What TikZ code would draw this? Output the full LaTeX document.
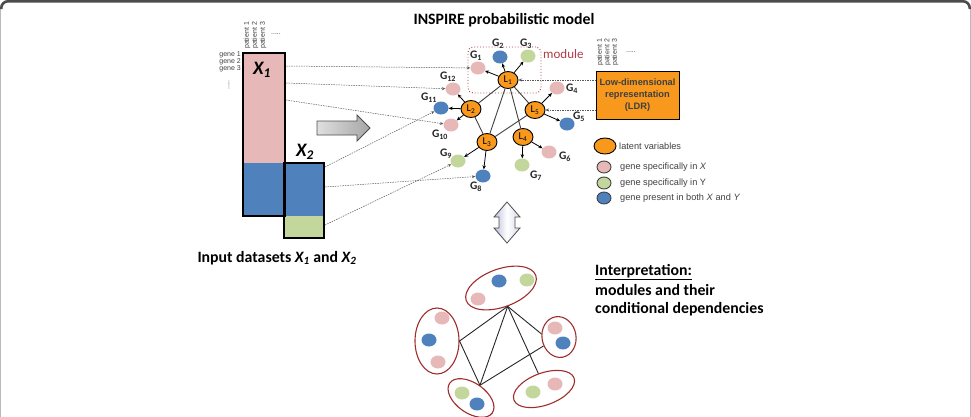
\documentclass[tikz,border=0pt]{standalone}
\usepackage{fontspec}
\setmainfont{Carlito}
\newfontfamily\arialf{Liberation Sans}
\usetikzlibrary{arrows.meta,shapes.geometric}
\definecolor{lorange}{RGB}{248,152,29}
\definecolor{gpink}{RGB}{230,185,184}
\definecolor{ggreen}{RGB}{195,214,155}
\definecolor{gblue}{RGB}{79,129,189}
\definecolor{mred}{RGB}{160,45,45}
\definecolor{modred}{RGB}{175,60,70}
\definecolor{txtgray}{RGB}{64,64,64}
\definecolor{lav}{RGB}{190,190,220}
\begin{document}
\begin{tikzpicture}[x=1pt,y=-1pt,
  latent/.style={ellipse, draw=black, line width=0.9pt, fill=lorange, minimum width=20pt, minimum height=17pt, inner sep=0pt, font=\fontsize{10.5}{10.5}\selectfont},
  gene/.style={ellipse, minimum width=15pt, minimum height=13pt, inner sep=0pt},
  gp/.style={gene, fill=gpink},
  gg/.style={gene, fill=ggreen},
  gb/.style={gene, fill=gblue},
  glab/.style={font=\bfseries\fontsize{11.5}{11.5}\selectfont, text=black!85, inner sep=0pt},
  tolat/.style={-{Stealth[length=4pt,width=3.5pt]}, line width=0.8pt, black},
  llink/.style={line width=0.9pt, black!75},
  dline/.style={-{Stealth[length=3.5pt,width=3pt]}, line width=0.5pt, black!65, dash pattern=on 1.5pt off 1pt},
  modell/.style={ellipse, draw=mred, line width=1.1pt, inner sep=0pt},
  ptext/.style={font=\arialf\fontsize{7}{7}\selectfont, text=black!75, inner sep=0pt},
  legtext/.style={font=\arialf\fontsize{9.2}{9.2}\selectfont, text=txtgray, inner sep=0pt, anchor=west},
  matbox/.style={draw=black, line width=2.5pt, inner sep=0pt},
  big/.style={font=\bfseries\fontsize{15.8}{19.5}\selectfont, inner sep=0pt, anchor=base west}
]
\useasboundingbox (0,0) rectangle (971,416);
\clip (0,0) rectangle (971,416);
% frame
\draw[gray!55, line width=0.8pt, rounded corners=7pt] (0.5,430) -- (0.5,0.5) -- (970.5,0.5) -- (970.5,430);
\draw[black!70, line width=2.5pt, rounded corners=7pt] (1.25,9) -- (1.25,1.25) -- (969.75,1.25) -- (969.75,9);

% ---------- input matrices ----------
\fill[gpink] (243,53) rectangle (285,163);
\fill[gblue] (243,163) rectangle (285,216);
\fill[gblue] (284,163) rectangle (324,216);
\fill[ggreen] (284,216) rectangle (324,238);
\node[matbox, minimum width=42pt, minimum height=163pt] (X1) at (264,134.5) {};
\node[matbox, minimum width=40pt, minimum height=75pt] (X2) at (304,200.5) {};
\node[font=\bfseries\itshape\fontsize{19}{19}\selectfont, inner sep=0pt] (X1lab) at (262,70) {X\textsubscript{1}};
\node[font=\bfseries\itshape\fontsize{19}{19}\selectfont, inner sep=0pt] (X2lab) at (305,152) {X\textsubscript{2}};
\node[ptext, rotate=90, anchor=west] (p1) at (247,49) {patient 1};
\node[ptext, rotate=90, anchor=west] (p2) at (255,49) {patient 2};
\node[ptext, rotate=90, anchor=west] (p3) at (263,49) {patient 3};
\node[ptext] (pdots) at (276,34) {.....};
\node[ptext, anchor=east] (g1) at (241,55) {gene 1};
\node[ptext, anchor=east] (g2) at (241,62) {gene 2};
\node[ptext, anchor=east] (g3) at (241,69) {gene 3};
\node[ptext, rotate=90] (gdots) at (229,85) {.....};
\node[big, anchor=base] (inlab) at (277,262) {Input datasets \textit{X\textsubscript{1}} and \textit{X\textsubscript{2}}};

% gray arrow
\shade[left color=gray!25, right color=gray!70, draw=black!70, line width=0.8pt]
  (317,121) -- (357,121) -- (357,115) -- (370,128) -- (357,141) -- (357,135) -- (317,135) -- cycle;

% ---------- model ----------
\node[big, anchor=base] (title) at (504,24) {INSPIRE probabilistic model};
\node[draw=modred, dotted, rounded corners=5pt, line width=0.9pt, minimum width=73pt, minimum height=46pt] (module) at (504.5,70) {};
\node[text=modred, font=\fontsize{13}{13}\selectfont, anchor=west, inner sep=0pt] (modlab) at (543,54) {module};

\node[gp] (G1) at (478,68) {};
\node[gb] (G2) at (500,57) {};
\node[gg] (G3) at (528,56) {};
\node[gp] (G12) at (453,89) {};
\node[gp] (G4) at (557,88) {};
\node[gb] (G11) at (441,108) {};
\node[gb] (G5) at (567,124) {};
\node[gp] (G10) at (451,125) {};
\node[gg] (G9) at (458,161) {};
\node[gb] (G8) at (483,176) {};
\node[gg] (G7) at (522,165) {};
\node[gp] (G6) at (549,152) {};

\node[glab] (lG1) at (476,56) {G\textsubscript{1}};
\node[glab] (lG2) at (498,44) {G\textsubscript{2}};
\node[glab] (lG3) at (526,44) {G\textsubscript{3}};
\node[glab] (lG12) at (448,77) {G\textsubscript{12}};
\node[glab] (lG4) at (572,89) {G\textsubscript{4}};
\node[glab] (lG11) at (429,98) {G\textsubscript{11}};
\node[glab] (lG5) at (579,117) {G\textsubscript{5}};
\node[glab] (lG10) at (440,135) {G\textsubscript{10}};
\node[glab] (lG9) at (446,154) {G\textsubscript{9}};
\node[glab] (lG8) at (476,187) {G\textsubscript{8}};
\node[glab] (lG7) at (536,176) {G\textsubscript{7}};
\node[glab] (lG6) at (565,157) {G\textsubscript{6}};

\node[latent] (L1) at (508,80) {L\textsubscript{1}};
\node[latent] (L2) at (471,109) {L\textsubscript{2}};
\node[latent] (L5) at (535,110) {L\textsubscript{5}};
\node[latent] (L3) at (487,142) {L\textsubscript{3}};
\node[latent] (L4) at (523,137) {L\textsubscript{4}};

\draw[llink] (L1) -- (L2);
\draw[llink] (L1) -- (L3);
\draw[llink] (L1) -- (L4);
\draw[llink] (L1) -- (L5);
\draw[llink] (L2) -- (L3);
\draw[llink] (L5) -- (L3);

\draw[tolat] (L1) -- (G1);
\draw[tolat] (L1) -- (G2);
\draw[tolat] (L1) -- (G3);
\draw[tolat] (L2) -- (G12);
\draw[tolat] (L2) -- (G11);
\draw[tolat] (L2) -- (G10);
\draw[tolat] (L5) -- (G4);
\draw[tolat] (L5) -- (G5);
\draw[tolat] (L3) -- (G9);
\draw[tolat] (L3) -- (G8);
\draw[tolat] (L4) -- (G7);
\draw[tolat] (L4) -- (G6);

% LDR
\node[draw=black, line width=1pt, fill=lorange, minimum width=83pt, minimum height=48pt, align=center, inner sep=0pt,
  font=\arialf\bfseries\fontsize{9.3}{11.8}\selectfont, text=txtgray] (ldr) at (637.5,95) {Low-dimensional\\representation\\(LDR)};
\node[ptext, rotate=90, anchor=west] (q1) at (600,66) {patient 1};
\node[ptext, rotate=90, anchor=west] (q2) at (607.5,66) {patient 2};
\node[ptext, rotate=90, anchor=west] (q3) at (615,66) {patient 3};
\node[ptext] (qdots) at (631,52) {.....};

% dashed connectors
\coordinate (a1) at (286,66);
\coordinate (a2) at (286,83);
\coordinate (a3) at (286,100);
\coordinate (b1) at (325,167);
\coordinate (b2) at (325,187);
\coordinate (b3) at (325,225);
\coordinate (r1) at (596,80);
\coordinate (r2) at (596,110);
\draw[dline] (a1) -- (G1);
\draw[dline] (a2) -- (G12);
\draw[dline] (a3) -- (G10);
\draw[dline] (b1) -- (G11);
\draw[dline] (b2) -- (G8);
\draw[dline] (b3) -- (G9);
\draw[dline] (r1) -- (L1);
\draw[dline] (r2) -- (L5);

% legend
\node[latent, minimum width=22pt, minimum height=16pt] (leglat) at (605,146) {};
\node[legtext] (tlat) at (619,146) {latent variables};
\node[gp, draw=txtgray, line width=0.9pt, minimum width=14pt, minimum height=12pt] (legx) at (604,167) {};
\node[legtext] (tx) at (620,167) {gene specifically in \textit{X}};
\node[gg, draw=txtgray, line width=0.9pt, minimum width=14pt, minimum height=12pt] (legy) at (604,183) {};
\node[legtext] (ty) at (620,183) {gene specifically in Y};
\node[gb, draw=txtgray, line width=0.9pt, minimum width=14pt, minimum height=12pt] (legb) at (604,198) {};
\node[legtext] (tb) at (620,198) {gene present in both \textit{X} and \textit{Y}};

% double arrow
\shade[left color=lav, right color=lav!60, middle color=white, draw=black!70, line width=0.8pt]
  (507,202) -- (520,217) -- (515,217) -- (515,228) -- (520,228) -- (507,243) -- (494,228) -- (499,228) -- (499,217) -- (494,217) -- cycle;

% ---------- interpretation ----------
\node[big] (int1) at (595,275) {\underline{Interpretation:}};
\node[big] (int2) at (595,295) {modules and their};
\node[big] (int3) at (595,313) {conditional dependencies};

\node[modell, minimum width=74pt, minimum height=38pt, rotate=20] (M1) at (501,288) {};
\node[modell, minimum width=44pt, minimum height=66pt] (M2) at (437,341) {};
\node[modell, minimum width=34pt, minimum height=41pt, rotate=10] (M3) at (559,337) {};
\node[modell, minimum width=52pt, minimum height=30pt, rotate=-35] (M4) at (471,398) {};
\node[modell, minimum width=64pt, minimum height=32pt, rotate=20] (M5) at (544,389) {};

\node[gb] (m1b) at (499,281) {};
\node[gg] (m1g) at (527,280) {};
\node[gp] (m1p) at (478,299) {};
\node[gp] (m2p1) at (442,318) {};
\node[gb] (m2b) at (429,340) {};
\node[gp] (m2p2) at (438,362) {};
\node[gp] (m3p) at (555,328) {};
\node[gb] (m3b) at (563,343) {};
\node[gg] (m4g) at (462,393) {};
\node[gb] (m4b) at (477,404) {};
\node[gg] (m5g) at (533,392) {};
\node[gp] (m5p) at (555,384) {};

\draw[llink, black!85] (M1.south) -- (M2.east);
\draw[llink, black!85] (M2.east) -- (M4.north);
\draw[llink, black!85] (M1.south) -- (M4.north);
\draw[llink, black!85] (M4.north) -- (M3.200);
\draw[llink, black!85] (M1.south) -- (M3.160);
\draw[llink, black!85] (M1.south) -- (M5.north);
\end{tikzpicture}
\end{document}
